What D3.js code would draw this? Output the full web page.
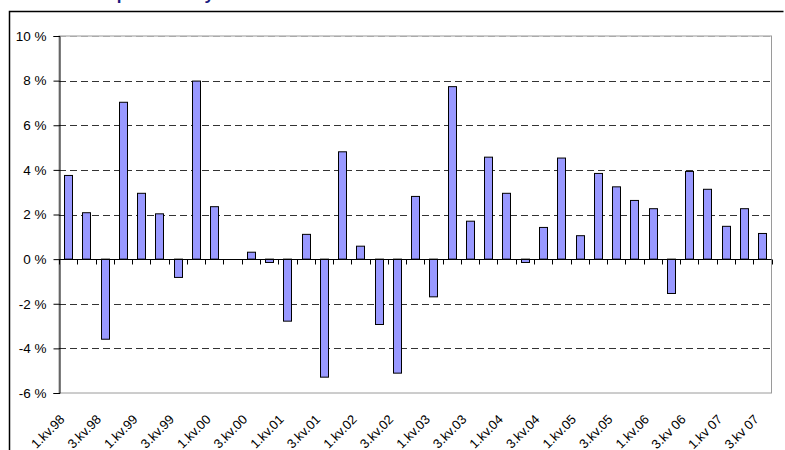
<!DOCTYPE html>
<html><head><meta charset="utf-8">
<script src="https://cdn.jsdelivr.net/npm/d3@7"></script>
<style>
html,body{margin:0;padding:0;background:#fff;}
svg{display:block;}
text{font-family:Arial,"Liberation Sans",sans-serif;}
</style></head>
<body>
<svg id="chart" width="785" height="450"></svg>
<script>
const titleText = "Čtvrtletní růst produktivity";
const categories = [
 "1.kv.98","2.kv.98","3.kv.98","4.kv.98",
 "1.kv.99","2.kv.99","3.kv.99","4.kv.99",
 "1.kv.00","2.kv.00","3.kv.00","4.kv.00",
 "1.kv.01","2.kv.01","3.kv.01","4.kv.01",
 "1.kv.02","2.kv.02","3.kv.02","4.kv.02",
 "1.kv.03","2.kv.03","3.kv.03","4.kv.03",
 "1.kv.04","2.kv.04","3.kv.04","4.kv.04",
 "1.kv.05","2.kv.05","3.kv.05","4.kv.05",
 "1.kv.06","2.kv.06","3.kv 06","4.kv 06",
 "1.kv 07","2.kv 07","3.kv 07"
];
const values = [
 3.75, 2.08, -3.59, 7.03,
 2.95, 2.03, -0.82, 7.98,
 2.35, null, 0.31, -0.15,
 -2.78, 1.11, -5.29, 4.81,
 0.58, -2.93, -5.11, 2.81,
 -1.69, 7.73, 1.70, 4.57,
 2.95, -0.15, 1.42, 4.53,
 1.05, 3.84, 3.24, 2.63,
 2.26, -1.54, 3.93, 3.13,
 1.47, 2.26, 1.15
];
const yTicks = [-6,-4,-2,0,2,4,6,8,10];

const svg = d3.select("#chart");
const L = 59, R = 771.5, T = 36, B = 393;

const x = d3.scaleBand().domain(categories).range([L, R]).paddingInner(0.55).paddingOuter(0.275);
const xb = d3.scaleBand().domain(categories).range([L, R]).padding(0);
const y = d3.scaleLinear().domain([-6, 10]).range([B, T]);

// outer chart border
svg.append("path").attr("d", `M9.5,450 V11.5 H783.5`).attr("fill","none").attr("stroke","#000").attr("stroke-width",1.5);

// title (mostly cut off at top, as in the reference)
svg.append("text").attr("x", 214).attr("y", -0.5).attr("text-anchor","end")
  .attr("font-size", 17).attr("font-weight","bold").attr("fill","#1a1a80").text(titleText);

// plot frame
svg.append("rect").attr("x", L).attr("y", T).attr("width", R-L).attr("height", B-T)
  .attr("fill","#fff").attr("stroke","#9a9a9a").attr("stroke-width",1);

// gridlines
svg.append("g").selectAll("line").data(yTicks.filter(d => d !== 0 && d !== -6))
  .join("line")
  .attr("x1", L).attr("x2", R)
  .attr("y1", d => Math.round(y(d))+0.5).attr("y2", d => Math.round(y(d))+0.5)
  .attr("stroke", d => d === 10 ? "#aaa" : "#333")
  .attr("stroke-dasharray","7,4");

// bars
svg.append("g").selectAll("rect").data(categories.map((c,i)=>({c, v: values[i]})).filter(d => d.v !== null))
  .join("rect")
  .attr("x", d => Math.round(x(d.c))+0.5)
  .attr("width", Math.round(x.bandwidth()))
  .attr("y", d => y(Math.max(0, d.v)))
  .attr("height", d => Math.abs(y(d.v) - y(0)))
  .attr("fill", "#9999ff")
  .attr("stroke", "#000")
  .attr("stroke-width", 1);

// y axis
const yAxis = svg.append("g").attr("transform", `translate(${L+0.5},0)`)
  .call(d3.axisLeft(y).tickValues(yTicks).tickSize(6).tickPadding(7).tickFormat(d => d + " %"));
yAxis.select(".domain").attr("stroke","#000");
yAxis.selectAll(".tick line").attr("stroke","#000");
yAxis.selectAll("text").attr("font-size", 13.5).attr("fill","#000").attr("font-family","Arial, 'Liberation Sans', sans-serif");

// x axis at zero line
const y0 = Math.round(y(0)) + 0.5;
svg.append("line").attr("x1", L).attr("x2", R).attr("y1", y0).attr("y2", y0).attr("stroke","#000");
const bounds = d3.range(categories.length + 1).map(i => L + i * xb.step());
svg.append("g").selectAll("line").data(bounds).join("line")
  .attr("x1", d => Math.round(d)+0.5).attr("x2", d => Math.round(d)+0.5)
  .attr("y1", y0).attr("y2", y0 + 5).attr("stroke","#000");

// x labels
svg.append("g").selectAll("text").data(categories.filter((c,i) => i % 2 === 0))
  .join("text")
  .attr("transform", d => `translate(${xb(d) + xb.bandwidth()/2 - 6},${417}) rotate(-45)`)
  .attr("text-anchor","end").attr("dy","0.35em")
  .attr("font-size", 13).attr("fill","#000")
  .text(d => d);
</script>
</body></html>
